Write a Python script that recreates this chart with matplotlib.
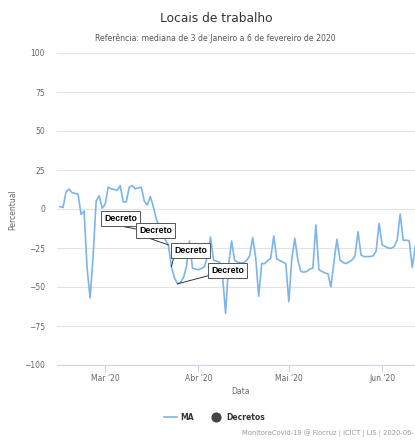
"""Locais de trabalho: mobility index for MA with state decrees."""

import matplotlib
matplotlib.use("Agg")
import matplotlib.pyplot as plt
from matplotlib.lines import Line2D
import pandas as pd

# daily values starting 2020-02-15
start_date = "2020-02-15"
ma_values = [
    1.5, 1, 11, 12.8, 10.5, 10, 9.5, -3.5, -1.3, -38,
    -57, -30, 5, 8.5, 0.5, 3, 14, 13, 12.5, 12,
    15, 4.5, 4.5, 14, 15, 13, 13.5, 14, 5, 2.5,
    8, 1.5, -6.5, -11, -16, -20, -23, -37, -44, -48,
    -47, -44, -37, -20.5, -38, -38.5, -39, -38, -37, -30,
    -18, -32.7, -33.5, -34, -43, -67, -36, -20.5, -33, -34,
    -34.5, -34.5, -33, -30, -18.4, -31, -56, -35, -35, -33,
    -31.6, -17.3, -32, -33, -34, -35, -59.4, -32, -18.8, -32.7,
    -40, -40.5, -40, -38.5, -38, -10.3, -39, -40, -41, -41.5,
    -50, -33.8, -19.4, -32.7, -34.3, -35, -34, -32.7, -30, -14.5,
    -29.5, -30.5, -30.5, -30.5, -30, -27, -9.2, -23, -24, -25,
    -25.2, -24, -20, -3.2, -20, -20, -20.3, -37.4, -24,
]

decree_dates = ["2020-03-20", "2020-03-22", "2020-03-23", "2020-03-25"]
decree_label = "Decreto"
# label offsets in pixels (box lower-left relative to the decree point)
decree_offsets = [(-61, 8), (-32, 7), (0, 9), (31, 6)]

month_ticks = ["2020-03-01", "2020-04-01", "2020-05-01", "2020-06-01"]
month_labels = ["Mar '20", "Abr '20", "Mai '20", "Jun '20"]
y_ticks = [100, 75, 50, 25, 0, -25, -50, -75, -100]

LINE_COLOR = "#7cb5ec"
DECREE_COLOR = "#434348"

plt.rcParams["font.family"] = ["DejaVu Sans"]

dates = pd.date_range(start_date, periods=len(ma_values), freq="D")
series = pd.Series(ma_values, index=dates)

fig = plt.figure(figsize=(4.15, 4.43), dpi=100)
# plot area runs past the right edge of the picture (cropped chart)
ax = fig.add_axes([57 / 415, 78 / 443, 379.3 / 415, 312 / 443])

ax.plot(series.index, series.values, color=LINE_COLOR, lw=1.2, zorder=3)

x0 = pd.Timestamp(start_date) - pd.Timedelta(days=1)
ax.set_xlim(x0, x0 + pd.Timedelta(days=126))
ax.set_ylim(-100, 100)

ax.set_yticks(y_ticks)
ax.set_yticklabels([str(v).replace("-", "\u2212") for v in y_ticks])
ax.set_xticks(pd.to_datetime(month_ticks))
ax.set_xticklabels(month_labels)

ax.grid(axis="y", color="#e3e3e3", lw=0.8)
ax.set_axisbelow(True)
for side in ["top", "right", "left"]:
    ax.spines[side].set_visible(False)
ax.spines["bottom"].set_color("#ccd6eb")
ax.spines["bottom"].set_linewidth(0.8)
ax.tick_params(axis="y", length=0, pad=8.5, labelsize=5.5, labelcolor="#666666")
ax.tick_params(axis="x", length=5, width=0.8, color="#ccd6eb", pad=1.5,
               labelsize=5.5, labelcolor="#666666")

# decrees: invisible points with boxed labels
dec_x = pd.to_datetime(decree_dates)
dec_y = series.loc[dec_x].values
ax.scatter(dec_x, dec_y, s=0, color=DECREE_COLOR)
for xd, yd, (dx, dy) in zip(dec_x, dec_y, decree_offsets):
    ax.annotate(decree_label, xy=(xd, yd), xytext=(dx + 3, dy + 3),
                textcoords="offset pixels", ha="left", va="bottom",
                fontsize=6.3, fontweight="bold", family="Liberation Sans",
                color="#000000", zorder=5,
                bbox=dict(boxstyle="square,pad=0.35", fc="white", ec="#555555", lw=0.7),
                arrowprops=dict(arrowstyle="-", color="#333333", lw=0.7,
                                relpos=(0, 0), shrinkA=0, shrinkB=0))

ax.set_xlabel("Data", fontsize=5.5, color="#666666")
ax.xaxis.set_label_coords(240 / 415, 1 - 387 / 443, transform=fig.transFigure)
ax.set_ylabel("Percentual", fontsize=5.5, color="#666666")
ax.yaxis.set_label_coords(17 / 415, 1 - 210 / 443, transform=fig.transFigure)

fig.text(216 / 415, 1 - 18 / 443, "Locais de trabalho", ha="center", va="center",
         fontsize=8.8, color="#333333")
fig.text(215 / 415, 1 - 38 / 443,
         "Referência: mediana de 3 de Janeiro a 6 de fevereiro de 2020",
         ha="center", va="center", fontsize=5.6, color="#555555")

handles = [
    Line2D([], [], color=LINE_COLOR, lw=1.2),
    Line2D([], [], color=DECREE_COLOR, marker="o", ls="", markersize=6.3),
]
fig.legend(handles, ["MA", "Decretos"], loc="center",
           bbox_to_anchor=(214.5 / 415, 1 - 417 / 443), ncol=2, frameon=False,
           prop={"size": 5.5, "weight": "bold"}, handlelength=1.7,
           handletextpad=0.5, columnspacing=2.0, labelcolor="#333333")

# credits line (the reference crops it after the month)
fig.text(414 / 415, 1 - 433 / 443,
         "MonitoraCovid-19 @ Fiocruz | ICICT | LIS | 2020-06-",
         ha="right", va="center", fontsize=4.9, color="#999999")

fig.savefig("out.png", dpi=100)
